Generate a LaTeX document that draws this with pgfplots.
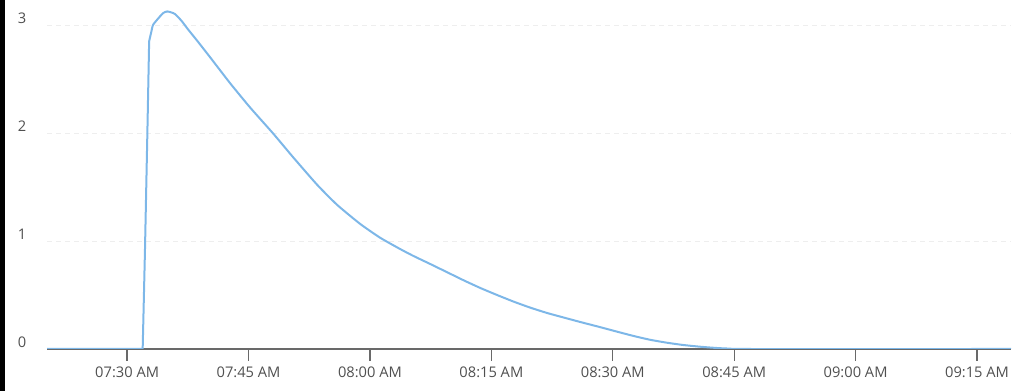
\documentclass[border=0pt]{standalone}
\usepackage{pgfplots}
\pgfplotsset{compat=1.18}
\usepackage{fontspec}
\setmainfont{Open Sans}
\definecolor{lineblue}{RGB}{125,183,232}
\definecolor{labelgray}{RGB}{80,80,80}
\definecolor{axisgray}{RGB}{105,105,105}
\definecolor{gridgray}{RGB}{238,238,238}
\begin{document}
\begin{tikzpicture}[x=1pt,y=1pt]
\path[use as bounding box] (0,0) rectangle (765,293.25);
\fill[black] (0,0) rectangle (3.75,293.25);
\begin{axis}[
  at={(35.25pt,31.5pt)}, anchor=south west,
  scale only axis, width=723pt, height=261.75pt,
  xmin=20.1, xmax=139.2, ymin=0, ymax=3.231,
  axis x line*=bottom, axis y line*=left,
  x axis line style={axisgray, line width=1.1pt, -},
  y axis line style={draw=none},
  xtick={30,45,60,75,90,105,120,135},
  xticklabels={07:30 AM,07:45 AM,08:00 AM,08:15 AM,08:30 AM,08:45 AM,09:00 AM,09:15 AM},
  ytick={0,1,2,3},
  tick align=outside, major tick length=9pt,
  xtick style={axisgray, line width=1pt},
  ytick style={draw=none},
  ymajorgrids,
  grid style={gridgray, line width=0.6pt, dash pattern=on 3.75pt off 3pt},
  tick label style={font=\fontsize{11}{13}\selectfont, text=labelgray},
  /pgf/number format/assume math mode=true,
  yticklabel style={xshift=-3pt, yshift=5pt},
  xticklabel style={yshift=-1pt},
]
\addplot[lineblue, line width=1.5pt, line join=round] coordinates {
(20.1,0) (31.92,0) (32.2,0.9) (32.5,2.0) (32.72,2.85)
};
\addplot[lineblue, line width=1.5pt, smooth, tension=0.35] coordinates {
(32.72,2.85) (32.97,2.93) (33.2,3.0)
(33.84,3.06) (34.45,3.11) (34.95,3.125) (35.5,3.115) (35.93,3.10) (36.7,3.04)
(37.41,2.97) (38.8,2.84) (40.26,2.70) (42.73,2.46) (45.2,2.235) (48.04,1.995)
(50.51,1.775) (53.48,1.52) (55.95,1.334) (58.79,1.158) (61.26,1.03)
(63.74,0.925) (65.35,0.862) (67.5,0.785) (69.55,0.71) (71.6,0.635)
(73.63,0.565) (75.7,0.50) (77.7,0.44) (79.8,0.383) (81.9,0.333) (84.0,0.29)
(85.98,0.25) (88.3,0.205) (90.55,0.16) (92.6,0.12) (94.63,0.085) (96.7,0.058)
(98.7,0.037) (100.8,0.021) (102.9,0.009) (104.6,0.003) (106.3,0) (139.2,0)
};
\end{axis}
\end{tikzpicture}
\end{document}
